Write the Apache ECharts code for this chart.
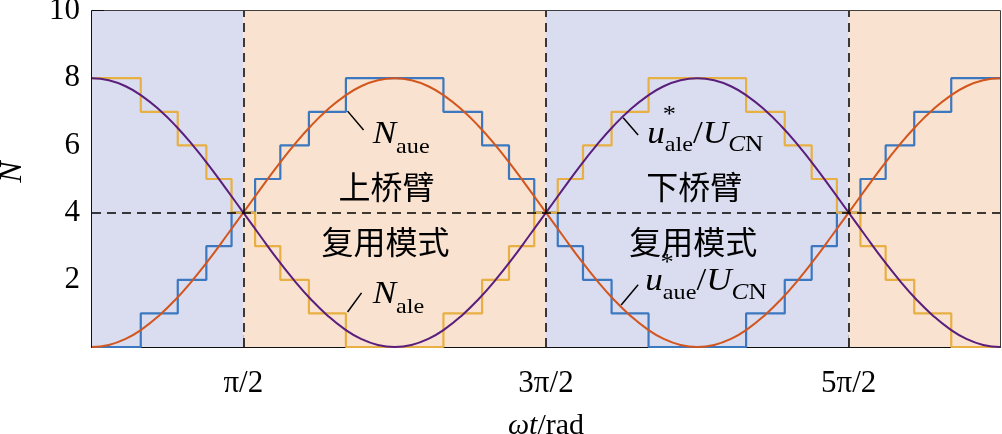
<!DOCTYPE html>
<html>
<head>
<meta charset="utf-8">
<script src="https://cdn.jsdelivr.net/npm/echarts@6.0.0/dist/echarts.min.js"></script>
<style>
  html, body { margin: 0; padding: 0; background: #fff; }
  #chart { width: 1002px; height: 434px; }
</style>
</head>
<body>
<div id="chart"></div>
<script>
// ωt in degrees (0 … 3π = 540°)
const curveX = [0, 10, 20, 30, 40, 50, 60, 70, 80, 90, 100, 110, 120, 130, 140, 150, 160, 170,
  180, 190, 200, 210, 220, 230, 240, 250, 260, 270, 280, 290, 300, 310, 320, 330, 340, 350,
  360, 370, 380, 390, 400, 410, 420, 430, 440, 450, 460, 470, 480, 490, 500, 510, 520, 530, 540]
// u*_ale / U_CN (purple)
const uAle = [8.00, 7.94, 7.76, 7.46, 7.06, 6.57, 6.00, 5.37, 4.69, 4.00, 3.31, 2.63, 2.00, 1.43, 0.94, 0.54, 0.24, 0.06,
  0.00, 0.06, 0.24, 0.54, 0.94, 1.43, 2.00, 2.63, 3.31, 4.00, 4.69, 5.37, 6.00, 6.57, 7.06, 7.46, 7.76, 7.94,
  8.00, 7.94, 7.76, 7.46, 7.06, 6.57, 6.00, 5.37, 4.69, 4.00, 3.31, 2.63, 2.00, 1.43, 0.94, 0.54, 0.24, 0.06, 0.00]
// u*_aue / U_CN (orange)
const uAue = [0.00, 0.06, 0.24, 0.54, 0.94, 1.43, 2.00, 2.63, 3.31, 4.00, 4.69, 5.37, 6.00, 6.57, 7.06, 7.46, 7.76, 7.94,
  8.00, 7.94, 7.76, 7.46, 7.06, 6.57, 6.00, 5.37, 4.69, 4.00, 3.31, 2.63, 2.00, 1.43, 0.94, 0.54, 0.24, 0.06,
  0.00, 0.06, 0.24, 0.54, 0.94, 1.43, 2.00, 2.63, 3.31, 4.00, 4.69, 5.37, 6.00, 6.57, 7.06, 7.46, 7.76, 7.94, 8.00]

// where the staircases change level (degrees), and the level held from there on
const stepEdges = [0, 29, 51, 68, 83, 97, 112, 129, 151, 209, 232, 248, 263, 277, 292, 309, 331,
  389, 412, 428, 443, 457, 472, 489, 511, 540]
const nAue = [0, 1, 2, 3, 4, 5, 6, 7, 8, 7, 6, 5, 4, 3, 2, 1, 0, 1, 2, 3, 4, 5, 6, 7, 8, 8]
const nAle = [8, 7, 6, 5, 4, 3, 2, 1, 0, 1, 2, 3, 4, 5, 6, 7, 8, 7, 6, 5, 4, 3, 2, 1, 0, 0]

const bandEdges = [0, 90, 270, 450, 540]
const xTicks = [90, 270, 450]
const xTickLabels = ['π/2', '3π/2', '5π/2']
const midLine = 4

const serif = '"Liberation Serif", "Times New Roman", serif'
const cjk = '"Noto Sans CJK SC", sans-serif'
const bandColors = ['#dadcf0', '#f9e2cf']
const stretch = 1.1 // the math labels are a little wider than the font's natural width

// annotation placement (data coords) — kept apart from the data above
const notes = [
  { at: [166.9, 6.01], parts: [{ t: 'N', size: 32, italic: true }, { t: 'aue', size: 22, dy: 10 }] },
  { at: [166.9, 1.25], parts: [{ t: 'N', size: 32, italic: true }, { t: 'ale', size: 22, dy: 10 }] },
  { at: [330.2, 6.01], star: true, parts: [
    { t: 'u', size: 32, italic: true }, { t: 'ale', size: 22, dy: 8 }, { t: '/', size: 32 },
    { t: 'U', size: 32, italic: true }, { t: 'C', size: 23, italic: true, dy: 8 }, { t: 'N', size: 23, dy: 8 }] },
  { at: [329.0, 1.61], star: true, parts: [
    { t: 'u', size: 32, italic: true }, { t: 'aue', size: 22, dy: 8 }, { t: '/', size: 32 },
    { t: 'U', size: 32, italic: true }, { t: 'C', size: 23, italic: true, dy: 8 }, { t: 'N', size: 23, dy: 8 }] }
]
const captions = [
  { at: [175.2, 4.76], t: '上桥臂' },
  { at: [174.6, 3.13], t: '复用模式' },
  { at: [358.2, 4.76], t: '下桥臂' },
  { at: [357.6, 3.13], t: '复用模式' }
]
const leaders = [
  [[152.0, 7.02], [161.5, 6.46]],
  [[152.0, 1.04], [160.3, 1.61]],
  [[315.9, 6.82], [324.8, 6.31]],
  [[314.7, 1.25], [324.8, 1.85]]
]

const chart = echarts.init(document.getElementById('chart'))

const zip = (xs, ys) => xs.map((x, i) => [x, ys[i]])

chart.setOption({
  animation: false,
  grid: {
    left: 92, right: 2, top: 11, bottom: 87,
    containLabel: false, outerBoundsMode: 'none',
    show: true, borderColor: '#000', borderWidth: 1.5
  },
  xAxis: {
    type: 'value',
    min: 0,
    max: 540,
    name: '{i|ωt}/rad',
    nameLocation: 'middle',
    nameGap: 64,
    nameTextStyle: { fontFamily: serif, fontSize: 30, color: '#000', rich: { i: { fontFamily: serif, fontSize: 30, fontStyle: 'italic', color: '#000' } } },
    axisLine: { lineStyle: { color: '#000', width: 1.5 } },
    axisTick: { inside: true, length: 12, customValues: xTicks, lineStyle: { color: '#000', width: 1.5 } },
    axisLabel: {
      customValues: xTicks,
      formatter: v => xTickLabels[xTicks.indexOf(v)] || '',
      fontFamily: serif, fontSize: 31, color: '#000', margin: 21
    },
    splitLine: { show: false }
  },
  yAxis: {
    type: 'value',
    min: 0,
    max: 10,
    interval: 2,
    name: 'N',
    nameLocation: 'middle',
    nameGap: 63,
    nameTextStyle: { fontFamily: serif, fontSize: 32, fontStyle: 'italic', color: '#000', padding: [0, 0, 0, 14] },
    axisLine: { lineStyle: { color: '#000', width: 1.5 } },
    axisTick: { inside: true, length: 12, lineStyle: { color: '#000', width: 1.5 } },
    axisLabel: {
      formatter: v => (v === 0 ? '' : v),
      fontFamily: serif, fontSize: 31, color: '#000', margin: 12, padding: [6, 0, 0, 0]
    },
    splitLine: { show: false }
  },
  series: [
    {
      name: 'bands',
      type: 'line',
      data: [],
      z: 0,
      silent: true,
      markArea: {
        silent: true,
        data: bandEdges.slice(0, -1).map((a, i) => [
          { xAxis: a, itemStyle: { color: bandColors[i % 2] } },
          { xAxis: bandEdges[i + 1] }
        ])
      },
      markLine: {
        silent: true,
        symbol: ['none', 'none'],
        label: { show: false },
        lineStyle: { color: '#000', width: 1.5, type: [9, 6] },
        data: xTicks.map(v => ({ xAxis: v })).concat([{ yAxis: midLine }])
      }
    },
    {
      name: 'N_aue',
      type: 'line',
      step: 'end',
      showSymbol: false,
      z: 3,
      lineStyle: { color: '#3c78c0', width: 2.2 },
      data: zip(stepEdges, nAue)
    },
    {
      name: 'N_ale',
      type: 'line',
      step: 'end',
      showSymbol: false,
      z: 3,
      lineStyle: { color: '#e8b042', width: 2.2 },
      data: zip(stepEdges, nAle)
    },
    {
      name: 'u_aue',
      type: 'line',
      smooth: true,
      showSymbol: false,
      z: 4,
      lineStyle: { color: '#d2561e', width: 2 },
      data: zip(curveX, uAue)
    },
    {
      name: 'u_ale',
      type: 'line',
      smooth: true,
      showSymbol: false,
      z: 4,
      lineStyle: { color: '#5a1e7c', width: 2 },
      data: zip(curveX, uAle),
      markLine: {
        silent: true,
        symbol: ['none', 'none'],
        label: { show: false },
        lineStyle: { color: '#000', width: 1.5, type: 'solid' },
        data: leaders.map(([a, b]) => [{ coord: a }, { coord: b }])
      }
    }
  ]
})

// lay out the math labels piece by piece (subscripts, asterisk)
const ctx = document.createElement('canvas').getContext('2d')
const fontOf = p => (p.italic ? 'italic ' : '') + p.size + 'px ' + serif
const graphics = []
const txt = (x, y, text, font, align, sx) => ({
  type: 'text', x: x, y: y, z: 100, silent: true, scaleX: sx || 1,
  style: { text: text, font: font, fill: '#000', align: align, verticalAlign: 'middle' }
})
notes.forEach(n => {
  const [x0, base] = chart.convertToPixel({ gridIndex: 0 }, n.at)
  let x = x0
  n.parts.forEach((p, i) => {
    const font = fontOf(p)
    ctx.font = font
    graphics.push(txt(x, base + (p.dy || 0) - 0.34 * p.size, p.t, font, 'left', stretch))
    if (n.star && i === 0) {
      graphics.push(txt(x + 22, base - 30, '*', '24px ' + serif, 'center', stretch))
    }
    x += ctx.measureText(p.t).width * stretch
  })
})
captions.forEach(c => {
  const [x, y] = chart.convertToPixel({ gridIndex: 0 }, c.at)
  graphics.push(txt(x, y, c.t, '32px ' + cjk, 'center'))
})
chart.setOption({ graphic: graphics })
</script>
</body>
</html>
